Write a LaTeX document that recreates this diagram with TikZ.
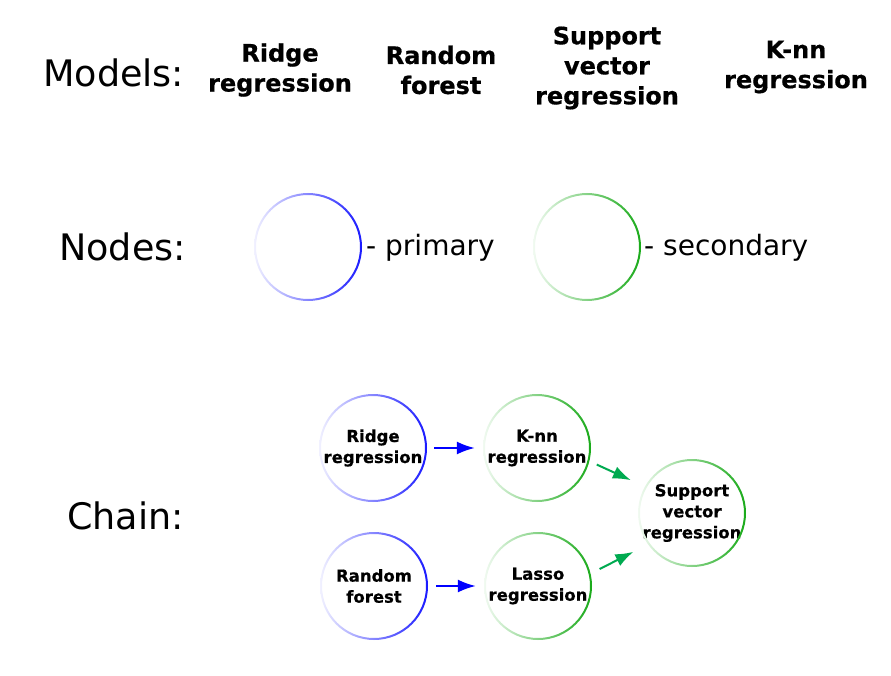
\documentclass[tikz,border=0pt]{standalone}
\usepackage{fontspec}
\setmainfont{DejaVu Sans}
\newfontfamily\heavyfont[FakeBold=0.6]{DejaVu Sans Bold}
\usetikzlibrary{arrows.meta}
\definecolor{primc}{RGB}{25,25,255}
\definecolor{secc}{RGB}{25,170,25}
\definecolor{arrb}{RGB}{0,0,255}
\definecolor{arrg}{RGB}{0,170,80}
\begin{document}
\begin{tikzpicture}[x=1pt,y=-1pt,line join=round,>={Latex[length=18pt,width=13pt]},
		head/.style={anchor=west,inner sep=0pt,font=\fontsize{36.5}{42}\selectfont},
		model/.style={align=center,inner sep=0pt,font=\heavyfont\fontsize{24}{30}\selectfont},
		legend/.style={anchor=base west,inner sep=0pt,font=\fontsize{28}{34}\selectfont},
		mnode/.style={circle,minimum size=106pt,inner sep=0pt,align=center,font=\heavyfont\fontsize{16.5}{21}\selectfont},
		link/.style={->,line width=2pt}]
	\useasboundingbox (0,0) rectangle (891,676);
	% headings
	\node[head] (models) at (43,73) {Models:};
	\node[head] (nodes) at (59,247) {Nodes:};
	\node[head] (chain) at (67,516) {Chain:};
	% models
	\node[model] (mridge) at (280,70) {Ridge\\regression};
	\node[model] (mforest) at (441,70) {Random\\forest};
	\node[model] (msvr) at (607,68) {Support\\vector\\regression};
	\node[model] (mknn) at (796,67) {K-nn\\regression};
	% legend
	\node[mnode] (prim) at (308,247) {};
	\node[mnode] (sec) at (587,247) {};
	\node[legend] (primtxt) at (366,256) {- primary};
	\node[legend] (sectxt) at (644,256) {- secondary};
	% chain
	\node[mnode] (ridge) at (373,448) {Ridge\\regression};
	\node[mnode] (forest) at (374,586) {Random\\forest};
	\node[mnode] (knn) at (537,448) {K-nn\\regression};
	\node[mnode] (lasso) at (538,586) {Lasso\\regression};
	\node[mnode] (svr) at (692,513) {Support\\vector\\regression};
	\foreach \n/\c in {prim/primc,sec/secc,ridge/primc,forest/primc,knn/secc,lasso/secc,svr/secc}
	\shade[left color=\c!6,right color=\c,even odd rule] (\n.center) circle (54pt) circle (52pt);
	\draw[link,arrb,shorten <=8pt,shorten >=9pt] (ridge) -- (knn);
	\draw[link,arrb,shorten <=9pt,shorten >=9pt] (forest) -- (lasso);
	\draw[link,arrg,shorten <=9pt,shorten >=12pt] (knn.-14) -- (svr.151);
	\draw[link,arrg,shorten <=11pt,shorten >=13pt] (lasso.13) -- (svr.215);
\end{tikzpicture}
\end{document}
